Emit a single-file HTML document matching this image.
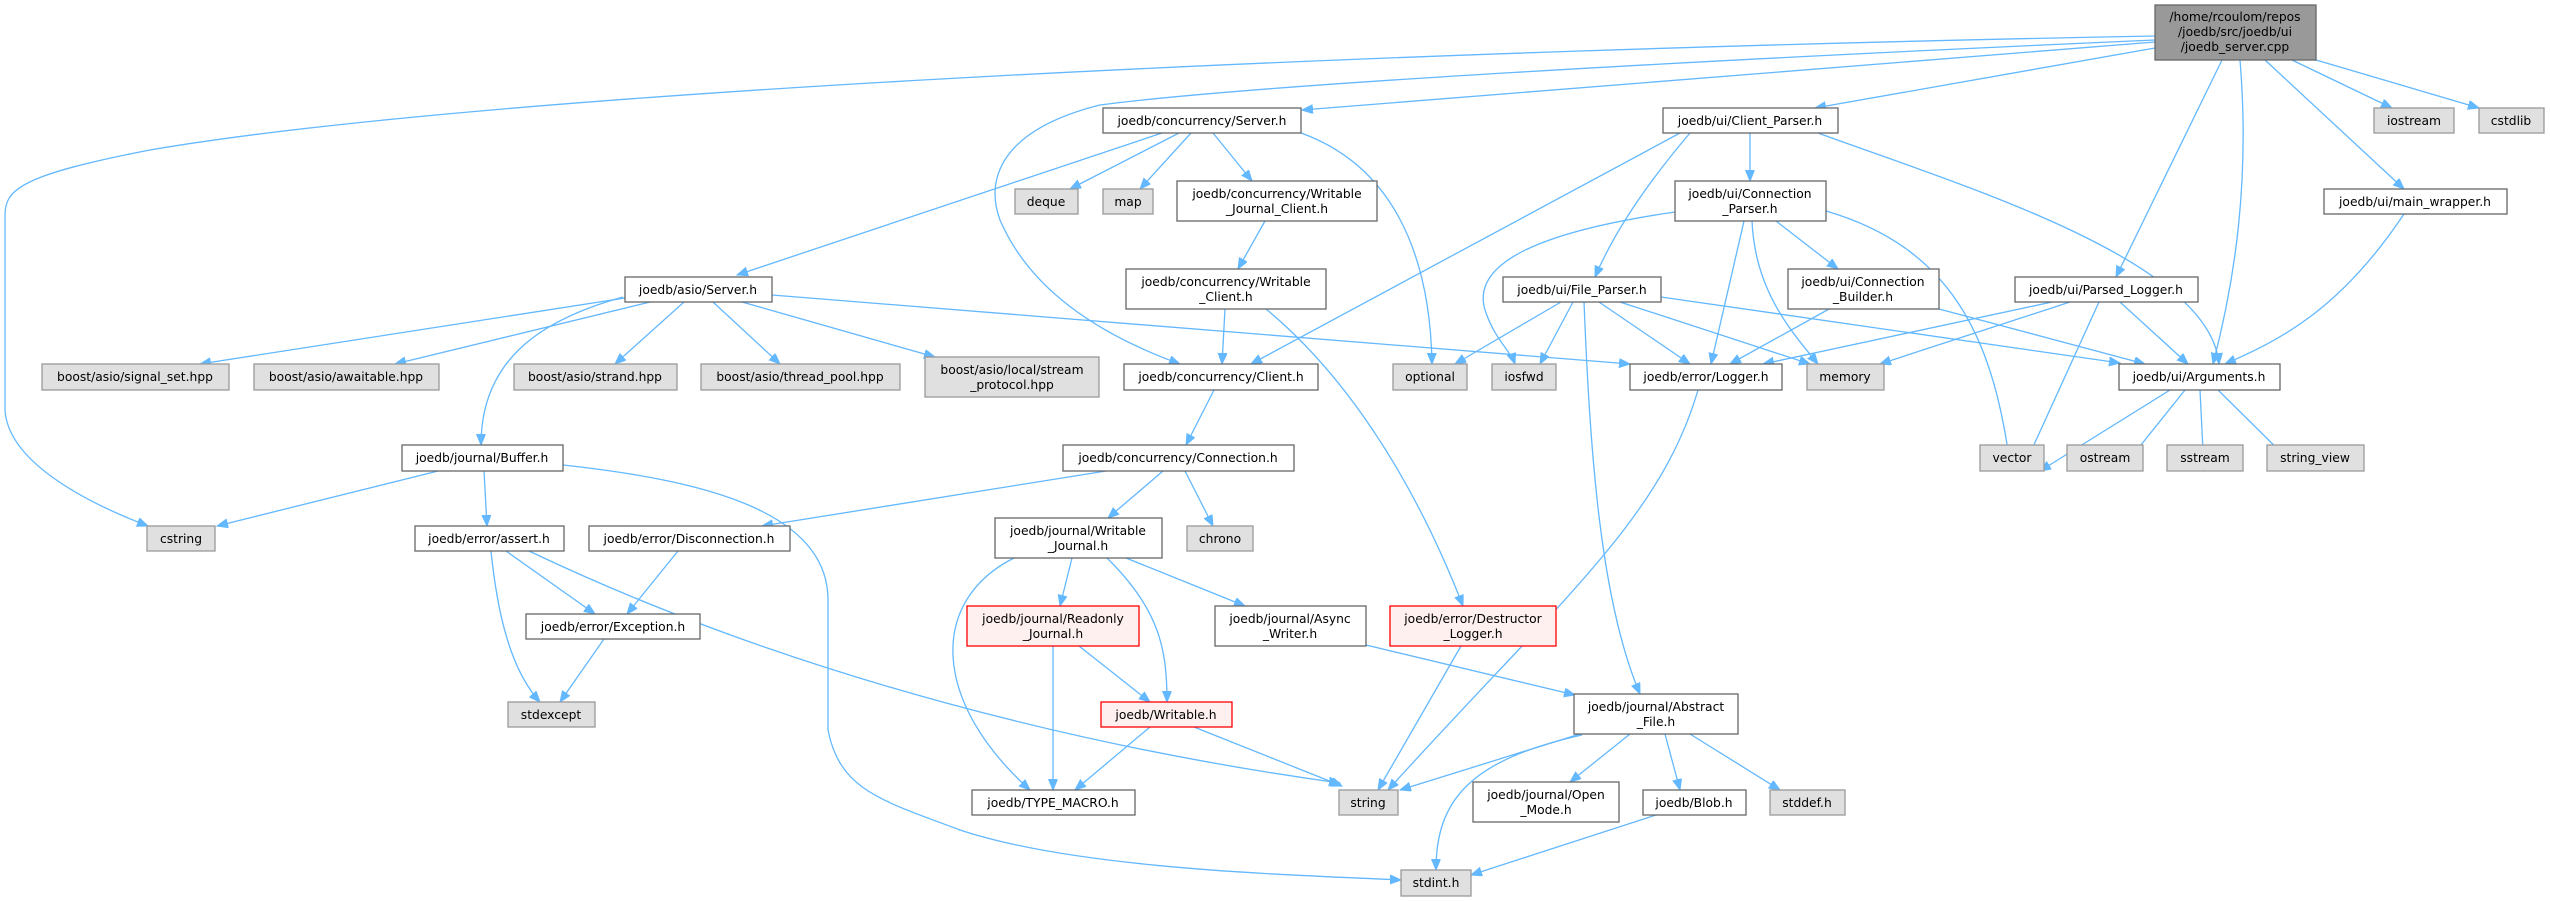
<!DOCTYPE html>
<html><head><meta charset="utf-8"><style>
html,body{margin:0;padding:0;background:#fff;}
svg{display:block;}
text{font-family:"DejaVu Sans","Liberation Sans",sans-serif;font-size:12.3px;fill:#000;text-anchor:middle;}
.n{fill:#fff;stroke:#666;stroke-width:1.3;}
.g{fill:#e0e0e0;stroke:#999;stroke-width:1.3;}
.r{fill:#fff0f0;stroke:#f00;stroke-width:1.3;}
.t{fill:#999;stroke:#666;stroke-width:1.3;}
path{fill:none;stroke:#63b8ff;stroke-width:1.3;marker-end:url(#a);}
</style></head><body>
<svg width="2550" height="901" viewBox="0 0 2550 901" xmlns="http://www.w3.org/2000/svg">
<defs><marker id="a" markerUnits="userSpaceOnUse" markerWidth="12" markerHeight="10" refX="11" refY="4.5" orient="auto"><path d="M0,0 L11,4.5 L0,9 Z" style="fill:#63b8ff;stroke:#63b8ff;stroke-width:1;marker-end:none"/></marker></defs>

<!-- edges from top node -->
<path d="M2155,36 C1400,50 500,90 150,150 C20,175 5,190 5,215 L5,410 C8,460 80,500 148,526"/>
<path d="M2155,40 C1700,60 1250,85 1100,105 C1000,130 985,180 1000,220 C1030,290 1100,335 1180,364"/>
<path d="M2155,42 L1302,110"/>
<path d="M2155,48 L1815,108"/>
<path d="M2222,60 L2116,277"/>
<path d="M2240,60 C2250,180 2235,280 2213,364"/>
<path d="M2265,60 L2404,189"/>
<path d="M2292,60 L2392,108"/>
<path d="M2316,60 L2479,108"/>
<!-- concurrency/Server.h -->
<path d="M1162,133 L737,275"/>
<path d="M1179,133 L1070,189"/>
<path d="M1191,133 L1140,189"/>
<path d="M1213,133 L1252,181"/>
<path d="M1301,133 C1390,165 1430,250 1432,364"/>
<!-- Client_Parser -->
<path d="M1690,133 C1650,180 1615,230 1595,277"/>
<path d="M1680,133 L1251,364"/>
<path d="M1750,133 L1750,181"/>
<path d="M1818,133 C1960,185 2210,260 2219,364"/>
<!-- Connection_Parser -->
<path d="M1675,212 C1550,230 1470,260 1485,310 C1495,340 1510,350 1515,364"/>
<path d="M1744,221 L1711,364"/>
<path d="M1752,221 C1755,290 1790,330 1818,364"/>
<path d="M1826,211 C1960,250 1995,350 2011,471"/>
<path d="M1776,221 L1838,269"/>
<!-- Connection_Builder -->
<path d="M1829,309 L1730,364"/>
<path d="M1939,309 L2145,364"/>
<!-- Parsed_Logger -->
<path d="M2052,302 L1763,364"/>
<path d="M2070,302 L1880,364"/>
<path d="M2099,302 L2022,471"/>
<path d="M2120,302 L2188,364"/>
<!-- main_wrapper -->
<path d="M2404,214 C2340,310 2280,340 2225,364"/>
<!-- File_Parser -->
<path d="M1561,302 L1455,364"/>
<path d="M1573,302 L1540,364"/>
<path d="M1599,302 L1690,364"/>
<path d="M1620,302 L1810,364"/>
<path d="M1661,297 L2120,363"/>
<path d="M1584,302 C1590,450 1600,600 1640,694"/>
<!-- asio/Server.h -->
<path d="M625,298 L200,364"/>
<path d="M650,302 L395,364"/>
<path d="M684,302 L615,364"/>
<path d="M713,302 L780,364"/>
<path d="M742,302 L935,357"/>
<path d="M772,295 L1630,364"/>
<path d="M623,297 C540,320 481,360 481,445"/>
<!-- Writable clients -->
<path d="M1265,221 L1238,269"/>
<path d="M1225,309 L1222,364"/>
<path d="M1266,309 C1340,370 1410,470 1463,606"/>
<path d="M1214,390 L1186,445"/>
<!-- Connection.h -->
<path d="M1106,471 L762,526"/>
<path d="M1163,471 L1108,518"/>
<path d="M1185,471 L1213,526"/>
<!-- Logger -> string -->
<path d="M1698,390 C1660,520 1560,600 1388,790"/>
<!-- Buffer -->
<path d="M438,471 L217,526"/>
<path d="M484,471 L487,526"/>
<path d="M563,465 C700,480 828,510 828,600 L828,730 C840,790 880,800 960,830 C1080,870 1300,875 1401,880"/>
<!-- assert -->
<path d="M491,551 C500,640 520,680 540,702"/>
<path d="M506,551 L595,614"/>
<path d="M529,551 C800,680 1100,750 1340,783"/>
<path d="M678,551 L627,614"/>
<path d="M604,639 L560,702"/>
<!-- Writable_Journal -->
<path d="M1014,558 C930,600 930,700 1030,790"/>
<path d="M1072,558 L1060,606"/>
<path d="M1107,558 C1160,610 1167,650 1167,702"/>
<path d="M1126,558 L1245,606"/>
<!-- Readonly -->
<path d="M1053,646 L1053,790"/>
<path d="M1079,646 L1150,702"/>
<!-- Writable.h -->
<path d="M1150,727 L1075,790"/>
<path d="M1194,727 L1342,786"/>
<!-- Async, Destructor -->
<path d="M1366,645 L1575,695"/>
<path d="M1461,646 L1378,790"/>
<!-- Abstract_File -->
<path d="M1580,734 L1400,790"/>
<path d="M1582,735 C1470,760 1436,800 1436,870"/>
<path d="M1630,734 L1570,782"/>
<path d="M1665,734 L1680,790"/>
<path d="M1690,734 L1780,790"/>
<path d="M1656,815 L1471,875"/>
<!-- Arguments -->
<path d="M2170,390 L2040,471"/>
<path d="M2185,390 L2120,471"/>
<path d="M2200,390 L2204,471"/>
<path d="M2218,390 L2300,471"/>

<!-- nodes -->
<rect class="t" x="2155" y="5" width="161" height="55"/>
<text x="2235" y="21">/home/rcoulom/repos</text><text x="2235" y="36">/joedb/src/joedb/ui</text><text x="2235" y="51">/joedb_server.cpp</text>

<rect class="n" x="1103" y="108" width="198" height="25"/><text x="1202" y="125">joedb/concurrency/Server.h</text>
<rect class="n" x="1663" y="108" width="175" height="25"/><text x="1750" y="125">joedb/ui/Client_Parser.h</text>
<rect class="g" x="2374" y="108" width="80" height="25"/><text x="2414" y="125">iostream</text>
<rect class="g" x="2479" y="108" width="65" height="25"/><text x="2511" y="125">cstdlib</text>

<rect class="g" x="1015" y="189" width="63" height="25"/><text x="1046" y="206">deque</text>
<rect class="g" x="1103" y="189" width="50" height="25"/><text x="1128" y="206">map</text>
<rect class="n" x="1177" y="181" width="200" height="40"/><text x="1277" y="198">joedb/concurrency/Writable</text><text x="1277" y="213">_Journal_Client.h</text>
<rect class="n" x="1675" y="181" width="151" height="40"/><text x="1750" y="198">joedb/ui/Connection</text><text x="1750" y="213">_Parser.h</text>
<rect class="n" x="2324" y="189" width="183" height="25"/><text x="2415" y="206">joedb/ui/main_wrapper.h</text>

<rect class="n" x="625" y="277" width="147" height="25"/><text x="698" y="294">joedb/asio/Server.h</text>
<rect class="n" x="1126" y="269" width="200" height="40"/><text x="1226" y="286">joedb/concurrency/Writable</text><text x="1226" y="301">_Client.h</text>
<rect class="n" x="1503" y="277" width="158" height="25"/><text x="1582" y="294">joedb/ui/File_Parser.h</text>
<rect class="n" x="1788" y="269" width="151" height="40"/><text x="1863" y="286">joedb/ui/Connection</text><text x="1863" y="301">_Builder.h</text>
<rect class="n" x="2015" y="277" width="183" height="25"/><text x="2106" y="294">joedb/ui/Parsed_Logger.h</text>

<rect class="g" x="42" y="364" width="187" height="26"/><text x="135" y="381">boost/asio/signal_set.hpp</text>
<rect class="g" x="254" y="364" width="185" height="26"/><text x="346" y="381">boost/asio/awaitable.hpp</text>
<rect class="g" x="514" y="364" width="163" height="26"/><text x="595" y="381">boost/asio/strand.hpp</text>
<rect class="g" x="701" y="364" width="199" height="26"/><text x="800" y="381">boost/asio/thread_pool.hpp</text>
<rect class="g" x="925" y="357" width="174" height="40"/><text x="1012" y="374">boost/asio/local/stream</text><text x="1012" y="389">_protocol.hpp</text>
<rect class="n" x="1124" y="364" width="194" height="26"/><text x="1221" y="381">joedb/concurrency/Client.h</text>
<rect class="g" x="1393" y="364" width="74" height="26"/><text x="1430" y="381">optional</text>
<rect class="g" x="1492" y="364" width="64" height="26"/><text x="1524" y="381">iosfwd</text>
<rect class="n" x="1630" y="364" width="152" height="26"/><text x="1706" y="381">joedb/error/Logger.h</text>
<rect class="g" x="1807" y="364" width="77" height="26"/><text x="1845" y="381">memory</text>
<rect class="n" x="2119" y="364" width="161" height="26"/><text x="2199" y="381">joedb/ui/Arguments.h</text>

<rect class="n" x="402" y="445" width="161" height="26"/><text x="482" y="462">joedb/journal/Buffer.h</text>
<rect class="n" x="1063" y="445" width="231" height="26"/><text x="1178" y="462">joedb/concurrency/Connection.h</text>
<rect class="g" x="1980" y="445" width="64" height="26"/><text x="2012" y="462">vector</text>
<rect class="g" x="2067" y="445" width="76" height="26"/><text x="2105" y="462">ostream</text>
<rect class="g" x="2167" y="445" width="76" height="26"/><text x="2205" y="462">sstream</text>
<rect class="g" x="2267" y="445" width="97" height="26"/><text x="2315" y="462">string_view</text>

<rect class="g" x="147" y="526" width="68" height="25"/><text x="181" y="543">cstring</text>
<rect class="n" x="415" y="526" width="149" height="25"/><text x="489" y="543">joedb/error/assert.h</text>
<rect class="n" x="589" y="526" width="201" height="25"/><text x="689" y="543">joedb/error/Disconnection.h</text>
<rect class="n" x="995" y="518" width="167" height="40"/><text x="1078" y="535">joedb/journal/Writable</text><text x="1078" y="550">_Journal.h</text>
<rect class="g" x="1187" y="526" width="66" height="25"/><text x="1220" y="543">chrono</text>

<rect class="n" x="526" y="614" width="174" height="25"/><text x="613" y="631">joedb/error/Exception.h</text>
<rect class="r" x="967" y="606" width="172" height="40"/><text x="1053" y="623">joedb/journal/Readonly</text><text x="1053" y="638">_Journal.h</text>
<rect class="n" x="1215" y="606" width="151" height="40"/><text x="1290" y="623">joedb/journal/Async</text><text x="1290" y="638">_Writer.h</text>
<rect class="r" x="1390" y="606" width="166" height="40"/><text x="1473" y="623">joedb/error/Destructor</text><text x="1473" y="638">_Logger.h</text>

<rect class="g" x="508" y="702" width="87" height="25"/><text x="551" y="719">stdexcept</text>
<rect class="r" x="1101" y="702" width="131" height="25"/><text x="1166" y="719">joedb/Writable.h</text>
<rect class="n" x="1574" y="694" width="164" height="40"/><text x="1656" y="711">joedb/journal/Abstract</text><text x="1656" y="726">_File.h</text>

<rect class="n" x="972" y="790" width="163" height="25"/><text x="1053" y="807">joedb/TYPE_MACRO.h</text>
<rect class="g" x="1339" y="790" width="59" height="25"/><text x="1368" y="807">string</text>
<rect class="n" x="1473" y="782" width="146" height="40"/><text x="1546" y="799">joedb/journal/Open</text><text x="1546" y="814">_Mode.h</text>
<rect class="n" x="1643" y="790" width="103" height="25"/><text x="1694" y="807">joedb/Blob.h</text>
<rect class="g" x="1770" y="790" width="75" height="25"/><text x="1807" y="807">stddef.h</text>

<rect class="g" x="1401" y="870" width="70" height="26"/><text x="1436" y="887">stdint.h</text>
</svg>
</body></html>
